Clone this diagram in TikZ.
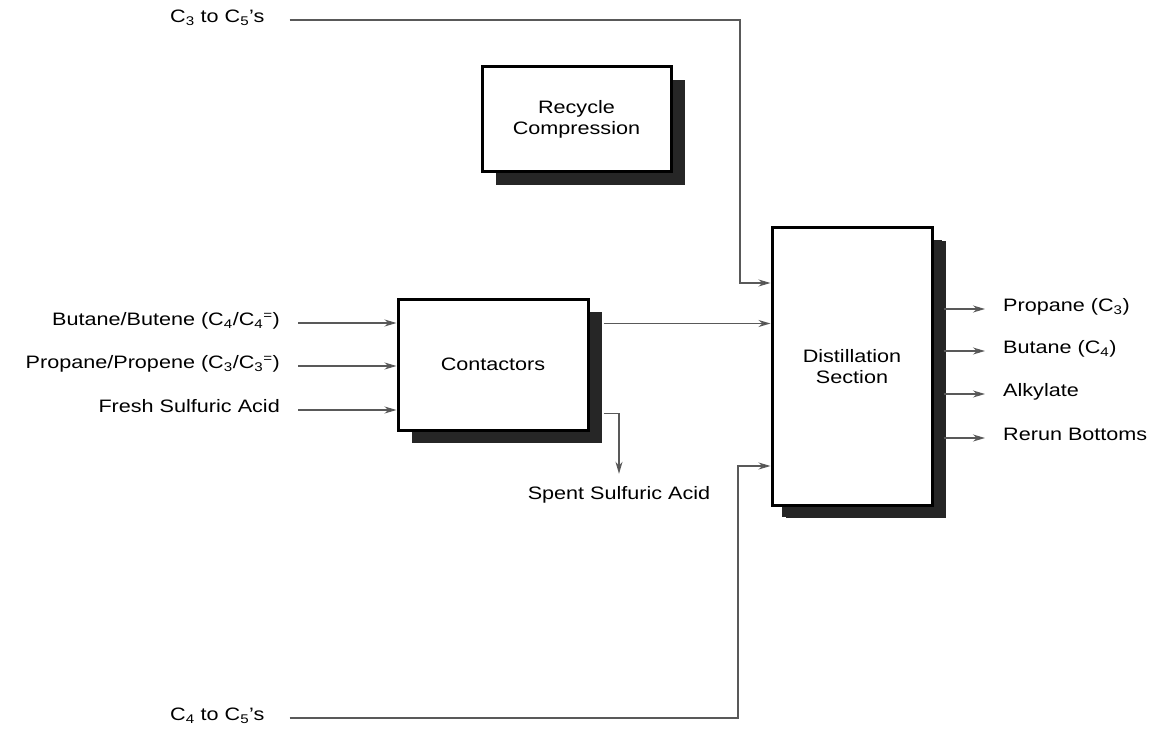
\documentclass[tikz,border=0pt]{standalone}
\usepackage{fontspec}
\setmainfont{Liberation Sans}[FakeStretch=1.2]
\usetikzlibrary{arrows.meta,shadows}
\tikzset{
  unit/.style={draw,line width=3pt,fill=white,align=center,
    font=\fontsize{18}{21}\selectfont,
    drop shadow={shadow xshift=14pt,shadow yshift=-13pt,fill=black!85,opacity=1}},
  lbl/.style={font=\fontsize{18}{21}\selectfont,inner sep=0pt,text height=0.75em,text depth=0.25em},
  flow/.style={line width=1.3pt,draw=black!65,-{Stealth[length=12pt,width=7pt,fill=black!85]}}
}
\begin{document}
\begin{tikzpicture}[x=1pt,y=-1pt]
  \useasboundingbox (0,0) rectangle (1159,738);
  % process units
  \node[unit,minimum width=189pt,minimum height=105pt] (recycle) at (576.5,119.5) {Recycle\\Compression};
  \node[unit,minimum width=190pt,minimum height=131pt] (contact) at (493,364.5) {Contactors};
  \node[unit,minimum width=160pt,minimum height=277pt,
    drop shadow={shadow xshift=10pt,shadow yshift=-12pt,fill=black!85,opacity=1}] (dist) at (852,366.5) {Distillation\\Section};
  % feeds
  \node[lbl,anchor=east] (bb) at (280,323) {Butane/Butene (C\textsubscript{4}/C\textsubscript{4}\textsuperscript{=})};
  \node[lbl,anchor=east] (pp) at (280,366) {Propane/Propene (C\textsubscript{3}/C\textsubscript{3}\textsuperscript{=})};
  \node[lbl,anchor=east] (acid) at (280,410) {Fresh Sulfuric Acid};
  \foreach \f in {bb,pp,acid}
    \draw[flow] (\f.east) ++(18,0) -- (\f -| contact.west);
  \draw[flow] ([xshift=14pt,yshift=-26pt]contact.north east) coordinate (c2d) -- (c2d -| dist.west);
  \node[lbl] (spent) at (619,497) {Spent Sulfuric Acid};
  \draw[flow] ([xshift=14pt,yshift=-116pt]contact.north east) -| ([yshift=18pt]spent.north);
  % recycle streams
  \node[lbl,anchor=west] (c3) at (170,20) {C\textsubscript{3} to C\textsubscript{5}'s};
  \node[lbl,anchor=west] (c4) at (170,718) {C\textsubscript{4} to C\textsubscript{5}'s};
  \coordinate (top) at (740,283);
  \coordinate (bot) at (738,466);
  \draw[flow] (c3.east) ++(25,0) -| (top) -- (top -| dist.west);
  \draw[flow] (c4.east) ++(25,0) -| (bot) -- (bot -| dist.west);
  % products
  \node[lbl,anchor=west] (p3) at (1003,309) {Propane (C\textsubscript{3})};
  \node[lbl,anchor=west] (p4) at (1003,351) {Butane (C\textsubscript{4})};
  \node[lbl,anchor=west] (alk) at (1003,394) {Alkylate};
  \node[lbl,anchor=west] (rerun) at (1003,438) {Rerun Bottoms};
  \foreach \p in {p3,p4,alk,rerun}
    \draw[flow] (dist.east |- \p) ++(10,0) -- ([xshift=-18pt]\p.west);
\end{tikzpicture}
\end{document}
